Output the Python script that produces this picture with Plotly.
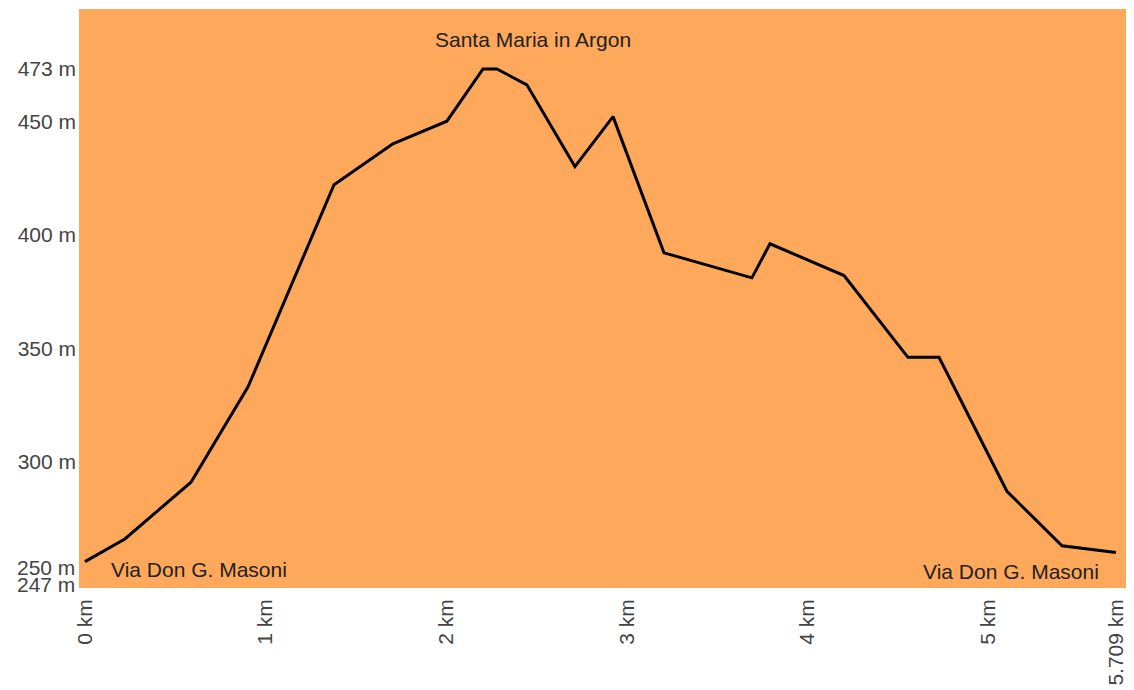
import plotly.graph_objects as go

# distance (km) and elevation (m)
distance_km = [0.0, 0.221, 0.587, 0.903, 1.379, 1.705, 2.004, 2.204, 2.281, 2.447,
               2.713, 2.924, 3.206, 3.693, 3.793, 4.203, 4.557, 4.729, 5.105, 5.410, 5.709]
elevation_m = [256, 266, 291, 333, 422, 440, 450, 473, 473, 466,
               430, 452, 392, 381, 396, 382, 346, 346, 287, 263, 260]

x_tick_vals = [0, 1, 2, 3, 4, 5, 5.709]
x_tick_text = ["0 km", "1 km", "2 km", "3 km", "4 km", "5 km", "5.709 km"]
y_tick_vals = [300, 350, 400, 450, 473]
y_tick_text = ["300 m", "350 m", "400 m", "450 m", "473 m"]
y_low_vals = [250, 247]
y_low_text = ["250 m", "247 m"]

place_labels = ["Santa Maria in Argon", "Via Don G. Masoni", "Via Don G. Masoni"]

FONT = "Liberation Sans, Arial, sans-serif"
TICK_COLOR = "#444444"
FS = 21

fig = go.Figure()
fig.add_trace(go.Scatter(
    x=distance_km, y=elevation_m, mode="lines",
    line=dict(color="black", width=3), hoverinfo="skip", showlegend=False,
))

# page body has an 8px margin, so the figure is sized/offset to compensate
fig.update_layout(
    width=1126, height=682,
    margin=dict(l=71, r=5, t=1, b=102),
    paper_bgcolor="white",
    plot_bgcolor="#FDA85A",
    font=dict(family=FONT, size=FS, color=TICK_COLOR),
    xaxis=dict(range=[-0.033, 5.781], tickvals=x_tick_vals, ticktext=x_tick_text,
               tickangle=-90, showgrid=False, zeroline=False, showline=False,
               ticks="", automargin=False, ticklabelstandoff=6,
               tickfont=dict(size=FS, color=TICK_COLOR)),
    yaxis=dict(range=[244.4, 499.4], tickvals=y_tick_vals, ticktext=y_tick_text,
               showgrid=False, zeroline=False, showline=False, ticks="",
               automargin=False, ticklabelstandoff=2,
               tickfont=dict(size=FS, color=TICK_COLOR)),
)

# low tick labels pushed apart
for v, t, s in zip(y_low_vals, y_low_text, [8, -2]):
    fig.add_annotation(x=0, xref="paper", xanchor="right", xshift=-2,
                       y=v, yref="y", yanchor="middle", yshift=s,
                       text=t, showarrow=False,
                       font=dict(family=FONT, size=FS, color=TICK_COLOR))

# place labels
fig.add_annotation(x=2.48, y=247 + (582 - 40) / 2.27, xref="x", yref="y",
                   text=place_labels[0], showarrow=False, xanchor="center", yanchor="middle",
                   font=dict(family=FONT, size=FS, color="#222222"))
fig.add_annotation(x=0.135, y=247 + (582 - 569) / 2.27, xref="x", yref="y",
                   text=place_labels[1], showarrow=False, xanchor="left", yanchor="middle",
                   font=dict(family=FONT, size=FS, color="#222222"))
fig.add_annotation(x=5.625, y=247 + (582 - 571) / 2.27, xref="x", yref="y",
                   text=place_labels[2], showarrow=False, xanchor="right", yanchor="middle",
                   font=dict(family=FONT, size=FS, color="#222222"))

fig.write_html("out.html")
